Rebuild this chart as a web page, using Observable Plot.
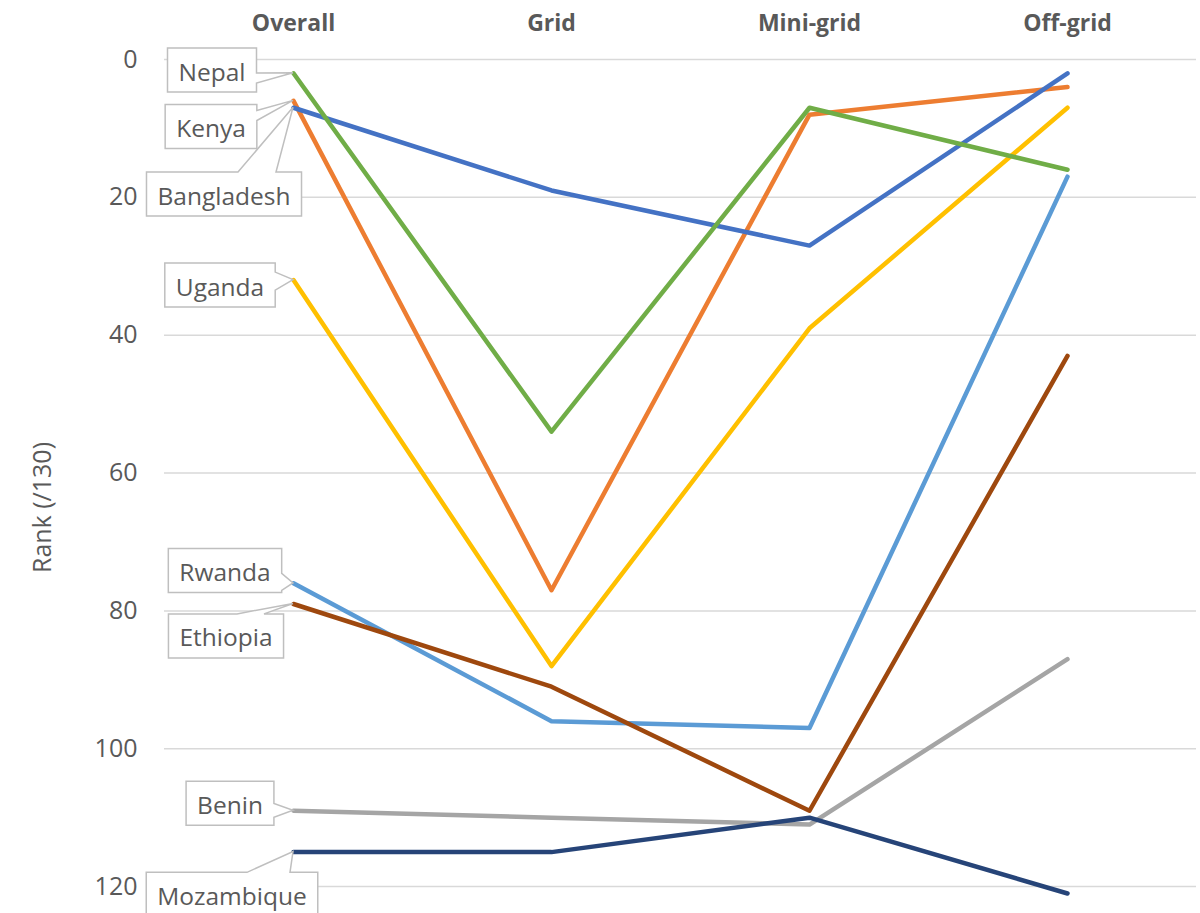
<!DOCTYPE html>
<html><head><meta charset="utf-8">
<script src="https://cdn.jsdelivr.net/npm/d3@7"></script>
<script src="https://cdn.jsdelivr.net/npm/@observablehq/plot@0.6"></script>
<style>body{margin:0;background:#fff} svg{display:block}</style>
</head><body><div id="chart"></div>
<script>
// ---- data ----
const categories = ["Overall", "Grid", "Mini-grid", "Off-grid"];
const countries = ["Kenya", "Bangladesh", "Uganda", "Rwanda", "Nepal", "Benin", "Mozambique", "Ethiopia"];
const kenya      = [6, 77, 8, 4];
const bangladesh = [7, 19, 27, 2];
const uganda     = [32, 88, 39, 7];
const rwanda     = [76, 96, 97, 17];
const nepal      = [2, 54, 7, 16];
const benin      = [109, 110, 111, 87];
const mozambique = [115, 115, 110, 121];
const ethiopia   = [79, 91, 109, 43];
const yTicks = [0, 20, 40, 60, 80, 100, 120];
const yLabel = "Rank (/130)";

// ---- styling / layout (not data) ----
const colors = {
  Bangladesh: "#4472C4", Kenya: "#ED7D31", Benin: "#A5A5A5", Uganda: "#FFC000",
  Rwanda: "#5B9BD5", Nepal: "#70AD47", Mozambique: "#264478", Ethiopia: "#9E480E"
};
// callout label placement: centre rank, horizontal pixel offset, wedge side and base offsets
const labelLayout = [
  {country: "Nepal",      rank: 1.6,   dx: -81, side: "right", base: [3, 13]},
  {country: "Kenya",      rank: 9.8,   dx: -82, side: "right", base: [-16, -6]},
  {country: "Bangladesh", rank: 19.6,  dx: -69, side: "top",   base: [14, 52]},
  {country: "Uganda",     rank: 32.8,  dx: -73, side: "right", base: [-13, 5]},
  {country: "Rwanda",     rank: 74.2,  dx: -68, side: "right", base: [3, 20]},
  {country: "Ethiopia",   rank: 83.7,  dx: -67, side: "top",   base: [11, 38]},
  {country: "Benin",      rank: 108.0, dx: -63, side: "right", base: [0, 14]},
  {country: "Mozambique", rank: 121.2, dx: -61, side: "top",   base: [15, 58]}
];

const series = {Kenya: kenya, Bangladesh: bangladesh, Uganda: uganda, Rwanda: rwanda,
  Nepal: nepal, Benin: benin, Mozambique: mozambique, Ethiopia: ethiopia};
const rows = countries.flatMap(c => categories.map((cat, i) => ({country: c, category: cat, rank: series[c][i]})));
const labelRows = labelLayout.map(l => ({...l, value: series[l.country][0]}));

const font = "'Open Sans', sans-serif";
const chart = Plot.plot({
  width: 1200, height: 913,
  marginTop: 59, marginLeft: 164, marginRight: 4, marginBottom: -42,
  style: {fontFamily: font, background: "#fff", color: "#595959"},
  x: {type: "point", domain: categories, padding: 0.5},
  y: {domain: [0, 130], reverse: true},
  color: {domain: Object.keys(colors), range: Object.values(colors)},
  marks: [
    Plot.gridY(yTicks, {stroke: "#D9D9D9", strokeOpacity: 1, strokeWidth: 1.5}),
    Plot.axisY(yTicks, {tickSize: 0, tickPadding: 27, fontSize: 25, fill: "#595959",
      label: yLabel, labelAnchor: "center", labelArrow: "none", labelOffset: 131}),
    Plot.axisX(categories, {anchor: "top", tickSize: 0, tickPadding: 29, fontSize: 23, fontWeight: "bold",
      fill: "#595959", label: null}),
    Plot.line(rows, {x: "category", y: "rank", z: "country", stroke: "country",
      strokeWidth: 4.5, strokeLinecap: "round", strokeLinejoin: "round"}),
    Plot.text(labelRows, {x: () => "Overall", y: "rank", text: "country",
      fontSize: 24.5, fill: "#595959", textAnchor: "middle", lineAnchor: "middle", className: "callout-text"})
  ]
});
document.getElementById("chart").appendChild(chart);

const sx = chart.scale("x"), sy = chart.scale("y");
const svg = d3.select(chart);
const textG = svg.select("g.callout-text");
const boxG = svg.insert("g", "g.callout-text").attr("class", "callouts");
textG.selectAll("text").each(function(d, i) {
  const l = labelRows[i];
  const px = sx.apply("Overall"), py = sy.apply(l.value);
  const cx = px + l.dx, cy = sy.apply(l.rank);
  const t = d3.select(this);
  t.attr("x", 0).attr("y", 0).attr("transform", null);
  const bb = this.getBBox();
  t.attr("transform", `translate(${cx - (bb.x + bb.width / 2)},${cy - (bb.y + bb.height / 2) + 1})`);
  const w = bb.width + 22, h = 44;
  const L = cx - w / 2, R = cx + w / 2, T = cy - h / 2, B = cy + h / 2;
  let p;
  if (l.side === "right") {
    p = `M${L},${T}H${R}V${cy + l.base[0]}L${px},${py}L${R},${cy + l.base[1]}V${B}H${L}Z`;
  } else {
    p = `M${L},${T}H${cx + l.base[0]}L${px},${py}L${cx + l.base[1]},${T}H${R}V${B}H${L}Z`;
  }
  boxG.append("path").attr("d", p).attr("fill", "#fff").attr("stroke", "#BFBFBF").attr("stroke-width", 1.5);
});
textG.attr("transform", null);
</script>
</body></html>
